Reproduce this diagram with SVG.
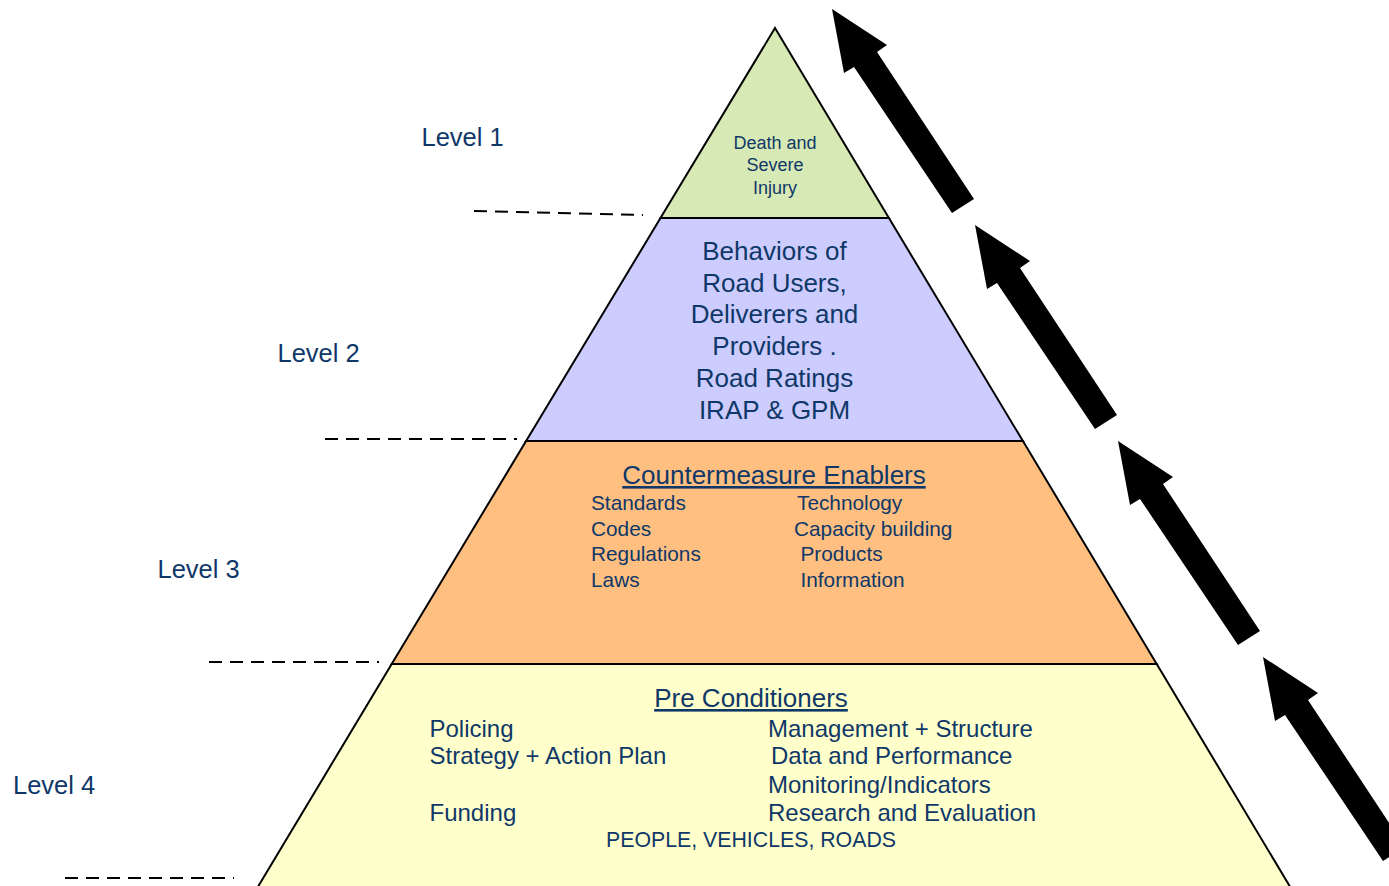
<svg xmlns="http://www.w3.org/2000/svg" width="1389" height="886" viewBox="0 0 1389 886">
<style>
  .tier { stroke: #000; stroke-width: 2; stroke-linejoin: miter; }
  .t { font-family: "Liberation Sans", Arial, sans-serif; fill: #0F3868; }
  .lvl { font-size: 25.5px; }
  .dash { stroke: #000; stroke-width: 2; stroke-dasharray: 13 8; fill: none; }
  .arrow { fill: #000; }
</style>
<defs>
  <path id="bigArrow" d="M0,0 L55,36 L45,43 L142,190 L120,204 L22,58 L12,64 Z"/>
</defs>
<rect width="1389" height="886" fill="#fff"/>

<g id="tier4">
  <polygon class="tier" points="391.7,664 1156.7,664 1292,890 256,890" fill="#FFFFCC"/>
  <text class="t" x="751" y="707" font-size="26" text-anchor="middle" text-decoration="underline">Pre Conditioners</text>
  <g font-size="24">
    <text class="t" x="429.5" y="736.5">Policing</text>
    <text class="t" x="429.5" y="764">Strategy + Action Plan</text>
    <text class="t" x="429.5" y="820.5">Funding</text>
    <text class="t" x="768" y="736.5">Management + Structure</text>
    <text class="t" x="771" y="764">Data and Performance</text>
    <text class="t" x="768" y="792.5">Monitoring/Indicators</text>
    <text class="t" x="768" y="820.5">Research and Evaluation</text>
  </g>
  <text class="t" x="751" y="846.5" font-size="21.3" text-anchor="middle">PEOPLE, VEHICLES, ROADS</text>
</g>

<g id="tier3">
  <polygon class="tier" points="526.1,441 1022.9,441 1156.7,664 391.7,664" fill="#FFBF80"/>
  <text class="t" x="774" y="484" font-size="26" text-anchor="middle" text-decoration="underline">Countermeasure Enablers</text>
  <g font-size="20.8">
    <text class="t" x="591" y="510">Standards</text>
    <text class="t" x="591" y="535.5">Codes</text>
    <text class="t" x="591" y="561">Regulations</text>
    <text class="t" x="591" y="586.5">Laws</text>
    <text class="t" x="797" y="510">Technology</text>
    <text class="t" x="794" y="535.5">Capacity building</text>
    <text class="t" x="800.5" y="561">Products</text>
    <text class="t" x="800.5" y="586.5">Information</text>
  </g>
</g>

<g id="tier2">
  <polygon class="tier" points="660.5,218 888.9,218 1022.9,441 526.1,441" fill="#CCCCFF"/>
  <g font-size="26" text-anchor="middle">
    <text class="t" x="774.5" y="260">Behaviors of</text>
    <text class="t" x="774.5" y="291.7">Road Users,</text>
    <text class="t" x="774.5" y="323.4">Deliverers and</text>
    <text class="t" x="774.5" y="355.1">Providers .</text>
    <text class="t" x="774.5" y="386.8">Road Ratings</text>
    <text class="t" x="774.5" y="418.5">IRAP &amp; GPM</text>
  </g>
</g>

<g id="tier1">
  <polygon class="tier" points="775,28 888.9,218 660.5,218" fill="#D7E9B4"/>
  <g font-size="18" text-anchor="middle">
    <text class="t" x="775" y="149">Death and</text>
    <text class="t" x="775" y="171">Severe</text>
    <text class="t" x="775" y="193.5">Injury</text>
  </g>
</g>

<g id="levels">
  <text class="t lvl" x="421.5" y="146">Level 1</text>
  <text class="t lvl" x="277.5" y="362">Level 2</text>
  <text class="t lvl" x="157.5" y="578">Level 3</text>
  <text class="t lvl" x="13" y="794">Level 4</text>
  <line class="dash" x1="474" y1="211" x2="643" y2="215"/>
  <line class="dash" x1="325" y1="439" x2="517" y2="439"/>
  <line class="dash" x1="209" y1="662" x2="379" y2="662"/>
  <line class="dash" x1="65" y1="878" x2="234" y2="878"/>
</g>

<g id="connectors">
  <use href="#bigArrow" class="arrow" x="832" y="9"/>
  <use href="#bigArrow" class="arrow" x="975" y="225"/>
  <use href="#bigArrow" class="arrow" x="1118" y="441"/>
  <use href="#bigArrow" class="arrow" x="1263" y="657"/>
</g>
</svg>
